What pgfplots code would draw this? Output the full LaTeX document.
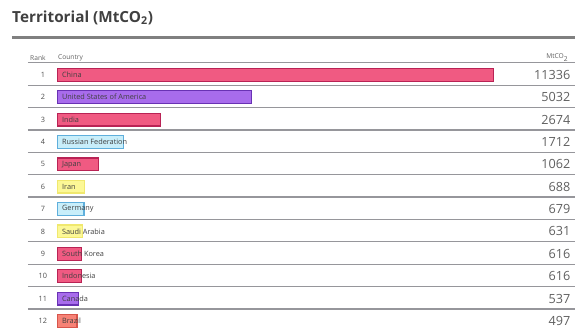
\documentclass[border=0pt]{standalone}
\usepackage{fontspec}
\setmainfont{Open Sans}
\usepackage{pgfplots}
\usepackage{pgfplotstable}
\pgfplotsset{compat=1.18}
\definecolor{pinkF}{RGB}{240,90,130}
\definecolor{pinkD}{RGB}{185,35,85}
\definecolor{purpF}{RGB}{168,108,236}
\definecolor{purpD}{RGB}{105,50,180}
\definecolor{blueF}{RGB}{200,238,250}
\definecolor{blueD}{RGB}{95,175,220}
\definecolor{yellF}{RGB}{252,248,150}
\definecolor{yellD}{RGB}{240,232,110}
\definecolor{salF}{RGB}{247,130,118}
\definecolor{salD}{RGB}{215,85,75}
\definecolor{lineG}{RGB}{150,150,155}
\definecolor{txtG}{RGB}{95,95,95}
\pgfplotstableread[col sep=comma]{
rank,country,value
1,China,11336
2,United States of America,5032
3,India,2674
4,Russian Federation,1712
5,Japan,1062
6,Iran,688
7,Germany,679
8,Saudi Arabia,631
9,South Korea,616
10,Indonesia,616
11,Canada,537
12,Brazil,497
}\datatable
\pgfplotsset{mybar/.style={xbar, bar width=9.6pt, bar shift=0pt, line width=0.9pt}}
\begin{document}
\begin{tikzpicture}
\begin{axis}[
  scale only axis, width=432pt, height=246.75pt,
  xmin=-1504.6, xmax=13437.4,
  ymin=-2.344, ymax=12.324, y dir=reverse,
  hide axis, clip=false,
]
\path (rel axis cs:0,0) (rel axis cs:1,1);
% title and header
\node[anchor=base west, font=\bfseries\fontsize{11.5}{13}\selectfont, text=black!75, inner sep=0pt] at (axis cs:-1193,-1.36) {Territorial (MtCO\textsubscript{2})};
\draw[line width=2.2pt, black!50] (axis cs:-1193,-0.650) -- (axis cs:13437,-0.650);
\node[anchor=west, font=\fontsize{5}{6}\selectfont, text=txtG, inner sep=0pt] at (axis cs:-726,0.24) {Rank};
\node[anchor=west, font=\fontsize{5}{6}\selectfont, text=txtG, inner sep=0pt] at (axis cs:0,0.24) {Country};
\node[anchor=east, font=\fontsize{5}{6}\selectfont, text=txtG, inner sep=0pt] at (axis cs:13282,0.24) {MtCO\textsubscript{2}};
\pgfplotsinvokeforeach{0,...,11}{
  \draw[lineG, line width=0.9pt] (axis cs:-778,#1+0.465) -- (axis cs:13437,#1+0.465);
}
% bars
\addplot[mybar, fill=pinkF, draw=pinkD] coordinates {(11336,1)};
\addplot[mybar, fill=purpF, draw=purpD] coordinates {(5032,2)};
\addplot[mybar, fill=pinkF, draw=pinkD] coordinates {(2674,3)};
\addplot[mybar, fill=blueF, draw=blueD] coordinates {(1712,4)};
\addplot[mybar, fill=pinkF, draw=pinkD] coordinates {(1062,5)};
\addplot[mybar, fill=yellF, draw=yellD] coordinates {(688,6)};
\addplot[mybar, fill=blueF, draw=blueD] coordinates {(679,7)};
\addplot[mybar, fill=yellF, draw=yellD] coordinates {(631,8)};
\addplot[mybar, fill=pinkF, draw=pinkD] coordinates {(616,9)};
\addplot[mybar, fill=pinkF, draw=pinkD] coordinates {(616,10)};
\addplot[mybar, fill=purpF, draw=purpD] coordinates {(537,11)};
\addplot[mybar, fill=salF, draw=salD] coordinates {(497,12)};
% labels
\addplot[draw=none, mark=none, nodes near coords, point meta=explicit symbolic,
  nodes near coords style={anchor=center, font=\fontsize{5.5}{6}\selectfont, text=black!70, inner sep=0pt}]
  table[x expr=-389, y=rank, meta=rank] {\datatable};
\addplot[draw=none, mark=none, nodes near coords, point meta=explicit symbolic,
  nodes near coords style={anchor=west, font=\fontsize{5.5}{6}\selectfont, text=black!75, inner sep=0pt}]
  table[x expr=104, y=rank, meta=country] {\datatable};
\addplot[draw=none, mark=none, nodes near coords, point meta=explicit symbolic,
  nodes near coords style={anchor=east, font=\fontsize{9.5}{11}\selectfont, text=txtG, inner sep=0pt}]
  table[x expr=13334, y=rank, meta=value] {\datatable};
\end{axis}
\end{tikzpicture}
\end{document}
